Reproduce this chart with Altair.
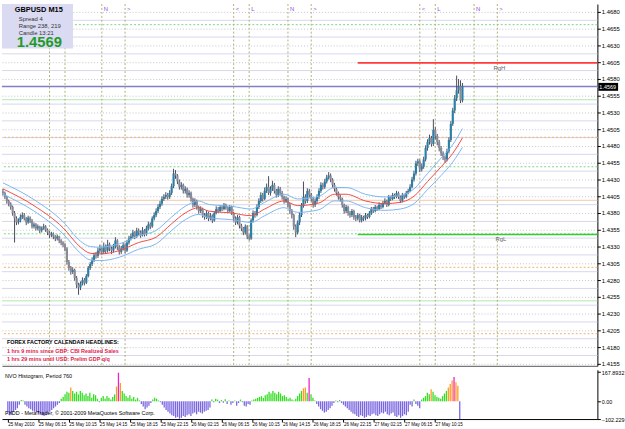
import altair as alt
import pandas as pd

# ---------------- data (prices in pips above 1.4000) ----------------
first_open = 412
closes = [
    410,404,398,394,389,380,372,366,369,374,
    377,372,366,373,369,360,363,357,360,354,
    357,360,355,351,347,349,345,342,345,339,
    336,333,327,307,298,292,295,283,273,269,
    275,280,276,286,298,304,310,317,316,324,
    327,322,330,324,333,327,324,330,339,329,
    322,327,332,324,336,342,345,351,345,354,
    351,347,354,349,357,363,360,372,377,383,
    389,394,401,404,407,404,410,420,439,436,
    427,419,422,413,416,407,410,401,392,398,
    389,383,386,377,374,380,372,376,369,380,
    386,383,389,386,392,388,383,389,380,372,
    366,374,361,357,351,360,345,342,369,380,
    377,389,398,407,401,413,419,410,416,422,
    413,407,416,410,404,398,401,392,383,377,
    360,351,366,377,391,404,398,413,407,401,
    392,398,404,413,422,419,427,433,436,430,
    422,416,410,404,401,392,383,389,380,377,
    383,374,372,377,369,374,372,377,374,380,
    386,383,389,386,392,389,395,398,392,404,
    401,407,404,410,404,398,407,404,410,413,
    419,430,439,454,457,445,449,460,477,486,
    492,483,504,495,486,477,469,463,460,472,
    489,513,533,551,563,569,548,569]
highs = [
    416,412,406,400,396,391,383,375,372,378,
    381,380,374,376,375,371,366,365,363,361,
    360,364,362,357,353,352,351,347,348,346,
    341,338,335,329,310,301,299,297,286,276,
    278,284,283,289,301,307,314,321,322,328,
    333,330,336,333,340,336,330,334,344,341,
    332,331,336,335,340,346,349,355,353,358,
    357,354,359,356,361,367,366,375,381,387,
    393,398,405,408,411,410,414,424,446,444,
    438,430,426,424,420,418,414,412,403,402,
    400,391,390,388,380,384,382,380,378,383,
    390,389,392,391,395,394,390,392,391,382,
    375,377,376,364,359,363,362,348,372,384,
    383,393,402,411,410,418,424,435,420,428,
    425,416,420,419,413,406,405,403,395,386,
    379,363,369,381,395,427,408,417,416,410,
    404,402,408,417,426,425,431,437,441,439,
    432,425,419,412,407,403,394,392,391,383,
    386,385,377,380,379,377,376,380,379,383,
    389,389,392,391,396,394,398,402,400,407,
    406,410,409,413,412,406,410,409,413,416,
    423,434,443,458,461,460,454,464,481,490,
    497,495,520,508,498,489,480,472,466,476,
    493,517,537,556,585,580,578,574]
lows = [
    406,401,394,390,385,376,336,362,363,366,
    371,369,362,364,365,357,357,354,354,350,
    351,355,352,347,343,344,341,338,339,335,
    332,329,323,303,294,288,289,279,268,258,
    265,272,272,274,284,295,301,307,312,313,
    320,318,319,320,321,323,319,321,327,325,
    318,319,324,320,322,333,339,342,341,343,
    347,343,345,345,346,354,356,358,369,374,
    380,386,391,398,401,400,401,407,417,431,
    423,415,415,409,409,403,403,397,388,389,
    385,379,380,373,370,371,368,369,365,367,
    378,380,381,383,384,385,380,381,377,368,
    362,363,357,353,347,348,341,339,340,366,
    373,375,386,395,397,399,410,407,406,413,
    409,403,404,406,400,394,395,388,379,372,
    355,344,348,362,374,388,394,395,403,397,
    388,389,395,401,410,415,416,424,430,426,
    418,412,406,400,397,388,379,380,376,373,
    374,370,368,369,366,366,368,369,371,372,
    377,380,381,383,384,386,387,393,389,390,
    398,399,401,402,401,395,396,401,402,408,
    411,417,427,436,450,441,442,446,457,473,
    482,479,480,490,481,472,465,459,455,457,
    469,486,510,529,547,558,544,545]

ma_bar = [0,16,31,40,45,50,60,70,79,87,94,101,106,118,128,135,145,152,163,171,
          177,187,197,205,212,219,226,232,237]
ma_mid = [416,391,358,329,320,319,324,336,344,364,380,388,383,380,376,386,398,391,395,408,
          408,398,394,396,405,427,449,469,492]
ma_up = [425,400,367,338,330,329,334,346,354,374,390,398,393,390,386,396,408,401,405,418,
         418,408,404,406,416,439,462,482,506]
ma_lo = [408,383,349,320,310,309,314,326,334,354,370,378,373,370,366,376,388,381,385,398,
         398,388,384,386,394,415,436,456,478]

hist_vals = [
    -70,-80,-75,-60,-50,-40,-20,8,5,-20,
    -30,-40,-45,-55,-60,-65,-70,-75,-80,-85,
    -80,-70,-60,-50,-40,-30,-20,-10,15,25,
    40,55,50,80,60,45,55,40,60,50,
    35,45,30,50,20,40,35,15,-5,20,
    30,15,30,20,10,25,40,85,165,105,
    60,45,30,20,35,15,25,10,20,5,
    -15,-30,-45,-35,-25,-10,10,20,15,5,
    -5,-20,-35,-50,-60,-70,-80,-85,-95,-90,
    -100,-95,-85,-90,-80,-75,-85,-70,-65,-75,
    -60,-65,-70,-60,-55,-50,-35,10,-5,15,
    10,-10,8,-8,12,-15,5,-20,-10,5,
    -25,-10,10,-5,-25,-30,-15,-20,5,10,
    15,20,25,30,20,35,40,55,45,60,
    50,40,55,45,30,35,25,15,20,10,
    5,15,30,45,60,75,80,50,135,40,
    20,5,-15,-30,-45,-55,-65,-60,-50,-40,
    -25,-10,5,-5,8,-10,-20,-30,-40,-50,
    -60,-70,-75,-85,-90,-80,-85,-95,-90,-80,
    -85,-75,-70,-80,-85,-75,-65,-70,-60,-75,
    -80,-70,-65,-85,-90,-80,-95,-85,-75,-80,
    -60,-20,-30,10,-15,-25,-40,10,20,30,
    50,40,70,55,35,25,20,15,30,45,
    60,80,100,120,140,110,90,-102.229]

x_labels = ["25 May 2010", "25 May 06:15", "25 May 10:15", "25 May 14:15", "25 May 18:15",
            "25 May 22:15", "26 May 02:15", "26 May 06:15", "26 May 10:15", "26 May 14:15",
            "26 May 18:15", "26 May 22:15", "27 May 02:15", "27 May 06:15", "27 May 10:15"]
bars_per_label = 16
price_ticks = [round(1.4155 + 0.0025 * k, 4) for k in range(22)]
mid_levels = [round(1.41675 + 0.0025 * k, 5) for k in range(21)]
pivot_prices = [1.4661, 1.4449, 1.4349, 1.4549, 1.4249, 1.4493, 1.4299, 1.4200, 1.4399]
pivot_kinds = ["green", "green", "green", "lightgreen", "lightgreen", "orange", "orange", "orange", "pale"]
range_high = 1.4604
range_low = 1.4348
range_start_bar = 183
current_price = 1.4569
session_bars = [24, 32, 51, 63, 119, 127, 147, 159, 215, 223, 243, 255]
session_marks = ["<", "L", "N", ">", "<", "L", "N", ">", "<", "L", "N", ">"]
hist_axis_vals = [167.8932, 0, -102.229]

# ---------------- frames ----------------
n = len(closes)
opens = [first_open] + closes[:-1]
to_price = lambda v: 1.4 + v / 10000.0
candles = pd.DataFrame({
    "bar": list(range(n)),
    "open": [to_price(v) for v in opens],
    "close": [to_price(v) for v in closes],
    "high": [to_price(v) for v in highs],
    "low": [to_price(v) for v in lows],
})
ma = pd.DataFrame({"bar": ma_bar * 3,
                   "price": [to_price(v) for v in ma_up + ma_mid + ma_lo],
                   "line": ["up"] * len(ma_bar) + ["mid"] * len(ma_bar) + ["lo"] * len(ma_bar)})
hist = pd.DataFrame({"bar": list(range(n)), "v": hist_vals})
mids = pd.DataFrame({"price": mid_levels})
sessions = pd.DataFrame({"bar": session_bars, "mark": session_marks})

X_MAX = 306.6
xs = alt.Scale(domain=[-0.5, X_MAX], nice=False, zero=False)
ys = alt.Scale(domain=[1.415206, 1.469176], nice=False, zero=False)
W = 604
FONT = "Liberation Sans"

x_axis_main = alt.Axis(labels=False, ticks=False, grid=False, title=None, domainColor="#555555")
yaxis = alt.Axis(orient="right", values=price_ticks, format=".4f", title=None, grid=True,
                 gridDash=[1, 2], gridColor="#c4c4cc", tickSize=3, labelPadding=1,
                 labelFontSize=6, labelFont=FONT, labelColor="#000000", tickColor="#000000",
                 domainColor="#000000", labelOverlap=False, labelFlush=False, labelBound=False)


def XB(field):
    return alt.X(field, type="quantitative", scale=xs, axis=x_axis_main)


def YP(field):
    return alt.Y(field, type="quantitative", scale=ys, axis=yaxis)


def hrules(prices, color, dash=None, width=1.0):
    kw = dict(color=color, strokeWidth=width)
    if dash:
        kw["strokeDash"] = dash
    return alt.Chart(pd.DataFrame({"price": prices})).mark_rule(**kw).encode(y=YP("price"))


mid_rules = alt.Chart(mids).mark_rule(color="#d6d6ee", strokeWidth=1).encode(y=YP("price"))
kind_style = {"green": ("#7ed67e", [2, 2]), "lightgreen": ("#b0e8b0", None),
              "orange": ("#f0b070", [2, 2]), "pale": ("#f4c8a8", None)}
piv_layers = [hrules([p for p, k in zip(pivot_prices, pivot_kinds) if k == kind], c, d)
              for kind, (c, d) in kind_style.items()]


def range_rule(price, color):
    return alt.Chart(pd.DataFrame({"bar": [range_start_bar], "end": [X_MAX], "price": [price]})).mark_rule(
        strokeWidth=1.6, color=color).encode(x=XB("bar"), x2="end:Q", y=YP("price"))


hi_rule = range_rule(range_high, "#ff3b3b")
lo_rule = range_rule(range_low, "#33cc33")
rng_text = alt.Chart(pd.DataFrame({"bar": [253, 254], "price": [range_high, range_low],
                                   "t": ["RgH", "RgL"]})).mark_text(
    align="left", baseline="top", dy=2, fontSize=6, font=FONT, color="#666666").encode(
    x=XB("bar"), y=YP("price"), text="t:N")

cur_line = hrules([current_price], "#8080c8", None, 1.2)

sess_rules = alt.Chart(sessions).mark_rule(color="#b0b07a", strokeDash=[2, 2], strokeWidth=1).encode(
    x=XB("bar"))
sess_text = alt.Chart(sessions).transform_filter("datum.bar > 40").mark_text(
    align="left", baseline="middle", dx=2, fontSize=6, font=FONT, color="#9050e0").encode(
    x=XB("bar"), y=alt.value(5), text="mark:N")

wicks = alt.Chart(candles).mark_rule(color="#4a4a5a", strokeWidth=1).encode(
    x=XB("bar"), y=YP("low"), y2="high:Q")


def bodies(cond, color):
    return alt.Chart(candles).transform_filter(cond).transform_calculate(
        x1="datum.bar - 0.55", x2="datum.bar + 0.55").mark_rect(
        strokeWidth=0, color=color).encode(x=XB("x1"), x2="x2:Q", y=YP("open"), y2="close:Q")


body_up = bodies("datum.close >= datum.open", "#2a7fa6")
body_dn = bodies("datum.close < datum.open", "#8a8a9a")


def ma_line(name, color):
    return alt.Chart(ma).transform_filter("datum.line == '%s'" % name).mark_line(
        strokeWidth=1, interpolate="monotone", color=color).encode(x=XB("bar"), y=YP("price"))


ma_layers = [ma_line("up", "#7ab6f2"), ma_line("mid", "#ee4a44"), ma_line("lo", "#7ab6f2")]


def label(txt, x, y, size=6, color="#000000", weight="normal", font=FONT):
    return alt.Chart(pd.DataFrame({"t": [txt]})).mark_text(
        align="left", baseline="middle", fontSize=size, fontWeight=weight, color=color,
        font=font).encode(x=alt.value(x), y=alt.value(y), text="t:N")


info_box = alt.Chart(pd.DataFrame({"a": [0]})).mark_rect(color="#dadaf2").encode(
    x=alt.value(0), x2=alt.value(72), y=alt.value(0), y2=alt.value(45))
price_box = alt.Chart(pd.DataFrame({"a": [0]})).mark_rect(color="#000000").encode(
    x=alt.value(605), x2=alt.value(625), y=alt.value(80), y2=alt.value(88))

main = alt.layer(
    mid_rules, *piv_layers, sess_rules, hi_rule, lo_rule, cur_line,
    wicks, body_up, body_dn, *ma_layers, rng_text, sess_text,
    info_box,
    label("GBPUSD   M15", 13, 6, size=7.5, weight="bold"),
    label("Spread   4", 17, 15, size=6, color="#333333"),
    label("Range   238, 219", 17, 22, size=6, color="#333333"),
    label("Candle   13:21", 17, 29, size=6, color="#333333"),
    label("1.4569", 15, 39, size=15, color="#1f9a2a", weight="bold"),
    label("FOREX FACTORY CALENDAR HEADLINES:", 5, 343, size=5.5, weight="bold"),
    label("1 hrs 9 mins since GBP: CBI Realized Sales", 5, 352, size=5.5, color="#e0204a", weight="bold"),
    label("1 hrs 29 mins until USD: Prelim GDP q/q", 5, 360, size=5.5, color="#e0204a", weight="bold"),
    price_box,
    label("1.4569", 606, 84, size=5.5, color="#ffffff"),
).properties(width=W, height=367)

label_expr = "[" + ",".join("'" + s + "'" for s in x_labels) + "][round(datum.value/%d)]" % bars_per_label
hx_axis = alt.Axis(
    values=[bars_per_label * k for k in range(len(x_labels))], labelExpr=label_expr,
    labelAlign="left", labelFlush=False, labelOverlap=False, labelBound=False,
    labelFontSize=4.6, labelFont=FONT, labelColor="#000000", tickSize=3, tickColor="#000000",
    domainColor="#000000", labelPadding=0, grid=False, title=None)
hy_axis = alt.Axis(orient="right", values=hist_axis_vals, title=None, grid=False,
                   labelExpr="datum.value == 0 ? '0.00' : format(datum.value, '.4~f')",
                   labelFontSize=5.5, labelFont=FONT, labelColor="#000000",
                   labelOverlap=False, labelFlush=False, labelBound=False,
                   tickSize=3, tickColor="#000000", domainColor="#000000", labelPadding=1)
hscale = alt.Scale(domain=[-102.229, 181.7], nice=False, zero=False)


def hist_part(cond, color):
    return alt.Chart(hist).transform_filter(cond).transform_calculate(zero="0").mark_bar(
        size=1.3, color=color).encode(
        x=alt.X("bar:Q", scale=xs, axis=hx_axis),
        y=alt.Y("v:Q", scale=hscale, axis=hy_axis), y2="zero:Q")


hist_panel = alt.layer(
    hist_part("datum.v < 0", "#7a66e0"),
    hist_part("datum.v > 0 && datum.v < 70", "#33dd22"),
    hist_part("datum.v >= 70 && datum.v < 130", "#ff9a22"),
    hist_part("datum.v >= 130", "#ee22cc"),
    label("NVO Histogram, Period 760", 3, 6, size=5.5),
    label("FXDD - MetaTrader, \u00a9 2001-2009 MetaQuotes Software Corp.", 3, 44, size=5.5),
).properties(width=W, height=50)

chart = alt.vconcat(main, hist_panel, spacing=2).properties(
    padding={"left": 0, "top": 0, "right": 0, "bottom": 0},
    background="#ffffff",
).configure_view(strokeWidth=0)

chart.save("out.html", embed_options={"renderer": "svg", "actions": False})
